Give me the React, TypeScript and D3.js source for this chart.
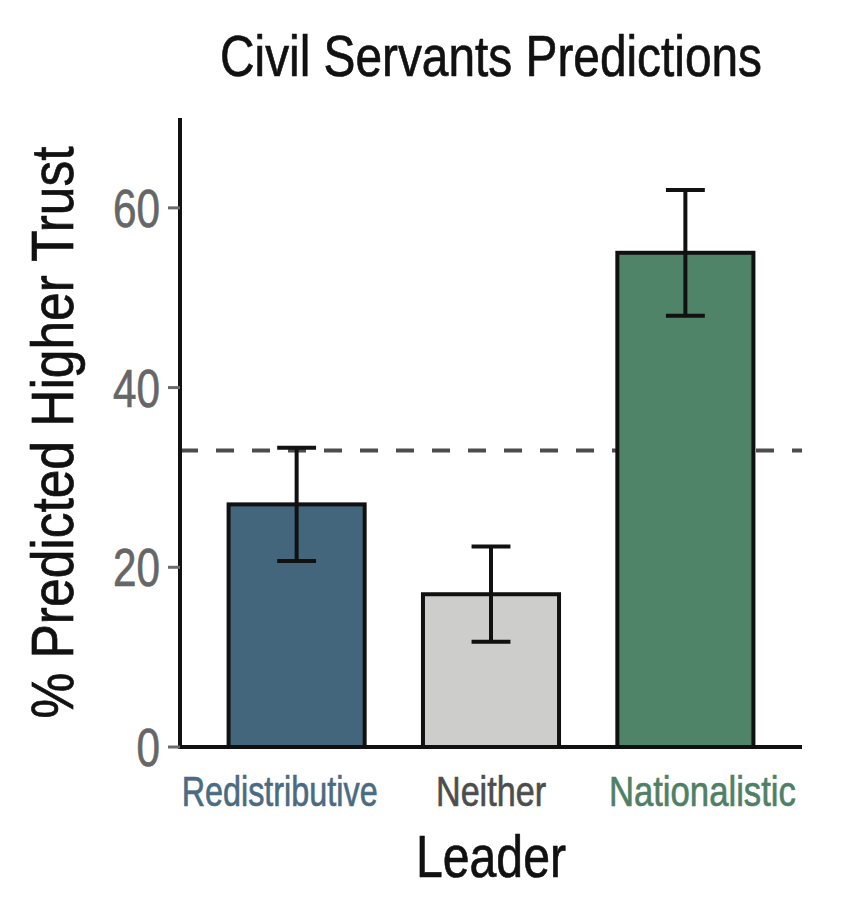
import * as d3 from 'd3';

// Leader categories and predicted shares (%)
const leaders = ['Redistributive', 'Neither', 'Nationalistic'];
const predicted = [27.0, 17.0, 55.0];
const lowerCI = [20.7, 11.7, 48.0];
const upperCI = [33.3, 22.3, 62.0];
const chanceLevel = 33.0;
const yTicks = [0, 20, 40, 60];

const barFills = ['#44667d', '#cdcecb', '#4f8468'];
const labelColors = ['#4a6b82', '#4d4d4d', '#4f8066'];
// rendered widths of the category labels in the figure (condensed face)
const labelWidths = [196, 110, 187];
// the outer labels sit a little wider apart than the bars
const labelSpread = 17;

const FONT = '"Liberation Sans", Arimo, Arial, sans-serif';

export default function App() {
  const width = 853;
  const height = 922;
  const margin = { top: 118, right: 51, bottom: 175, left: 180 };

  const x = d3.scaleBand<string>()
    .domain(leaders)
    .range([margin.left, width - margin.right])
    .paddingInner(0.3)
    .paddingOuter(0.25);

  const y = d3.scaleLinear()
    .domain([0, 70])
    .range([height - margin.bottom, margin.top]);

  const capW = x.step() * 0.2;
  const plotCenter = (margin.left + width - margin.right) / 2;
  const [y0, y1] = y.range();

  // slight outline to get the heavier condensed look of the original
  const heavy = (c: string) => ({ stroke: c, strokeWidth: 0.7 });

  return (
    <svg
      width={width}
      height={height}
      style={{ position: 'absolute', left: 0, top: 0, background: '#fff' }}
      fontFamily={FONT}
    >
      {/* Title */}
      <text
        x={plotCenter}
        y={76}
        textAnchor="middle"
        fontSize={58}
        fill="#111"
        {...heavy('#111')}
        textLength={542}
        lengthAdjust="spacingAndGlyphs"
      >
        Civil Servants Predictions
      </text>

      {/* chance line, behind the bars */}
      <line
        x1={margin.left}
        x2={width - margin.right}
        y1={y(chanceLevel)}
        y2={y(chanceLevel)}
        stroke="#4d4d4d"
        strokeWidth={4}
        strokeDasharray="18,18"
      />

      {/* Bars */}
      {leaders.map((d, i) => (
        <rect
          key={d}
          x={x(d)}
          y={y(predicted[i])}
          width={x.bandwidth()}
          height={y(0) - y(predicted[i])}
          fill={barFills[i]}
          stroke="#111"
          strokeWidth={4}
        />
      ))}

      {/* Error bars */}
      {leaders.map((d, i) => {
        const cx = (x(d) ?? 0) + x.bandwidth() / 2;
        return (
          <g key={d} stroke="#111" strokeWidth={4}>
            <line x1={cx} x2={cx} y1={y(lowerCI[i])} y2={y(upperCI[i])} />
            <line x1={cx - capW / 2} x2={cx + capW / 2} y1={y(lowerCI[i])} y2={y(lowerCI[i])} />
            <line x1={cx - capW / 2} x2={cx + capW / 2} y1={y(upperCI[i])} y2={y(upperCI[i])} />
          </g>
        );
      })}

      {/* Y axis */}
      <line x1={margin.left} x2={margin.left} y1={y1} y2={y0 + 2} stroke="#111" strokeWidth={4} />
      {yTicks.map(t => (
        <g key={t}>
          <line x1={margin.left - 12} x2={margin.left} y1={y(t)} y2={y(t)} stroke="#6b6b6b" strokeWidth={3} />
          <text
            x={margin.left - 20}
            y={y(t)}
            dy="0.36em"
            textAnchor="end"
            fontSize={53}
            fill="#666"
            {...heavy('#666')}
            textLength={String(t).length * 23.5}
            lengthAdjust="spacingAndGlyphs"
          >
            {t}
          </text>
        </g>
      ))}

      {/* X axis */}
      <line x1={margin.left} x2={width - margin.right} y1={y0} y2={y0} stroke="#111" strokeWidth={4} />
      {leaders.map((d, i) => (
        <text
          key={d}
          x={(x(d) ?? 0) + x.bandwidth() / 2 + (i - 1) * labelSpread}
          y={806}
          textAnchor="middle"
          fontSize={43}
          fill={labelColors[i]}
          {...heavy(labelColors[i])}
          textLength={labelWidths[i]}
          lengthAdjust="spacingAndGlyphs"
        >
          {d}
        </text>
      ))}

      {/* Axis titles */}
      <text
        x={plotCenter}
        y={877}
        textAnchor="middle"
        fontSize={60}
        fill="#111"
        {...heavy('#111')}
        textLength={150}
        lengthAdjust="spacingAndGlyphs"
      >
        Leader
      </text>
      <text
        transform={`translate(73,${(y0 + y1) / 2}) rotate(-90)`}
        textAnchor="middle"
        fontSize={60}
        fill="#111"
        {...heavy('#111')}
        textLength={572}
        lengthAdjust="spacingAndGlyphs"
      >
        % Predicted Higher Trust
      </text>
    </svg>
  );
}
